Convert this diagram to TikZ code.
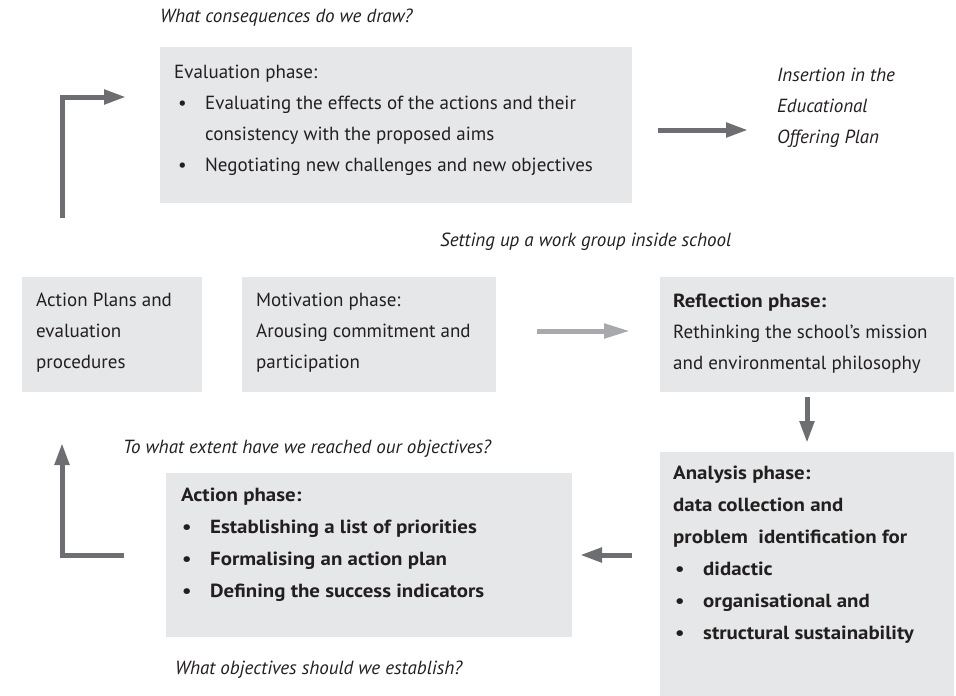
\documentclass[tikz,border=0pt]{standalone}
\usepackage{fontspec}
\setmainfont{PT Sans}[BoldFeatures={FakeStretch=1.1}]
\usetikzlibrary{arrows.meta}
\definecolor{boxgray}{HTML}{E6E7E8}
\definecolor{arrdark}{HTML}{6D6E71}
\definecolor{arrlight}{HTML}{A7A9AC}
\definecolor{txt}{HTML}{231F20}
\begin{document}
\begin{tikzpicture}[x=1pt,y=-1pt,
  box/.style={fill=boxgray, draw=none, inner sep=0, anchor=north west},
  ln/.style={inner sep=0, anchor=base west, text=txt, font=\fontsize{19}{23}\selectfont},
  lnb/.style={ln, font=\fontsize{19}{23}\selectfont\bfseries},
  lni/.style={ln, font=\fontsize{19}{23}\selectfont\itshape},
  darrow/.style={draw=arrdark, line width=5pt, -{Triangle[length=22pt,width=14pt]}},
  larrow/.style={draw=arrlight, line width=5pt, -{Triangle[length=26pt,width=14pt]}}]
\useasboundingbox (0,0) rectangle (956,696);

% boxes
\node[box, minimum width=472, minimum height=156] (evalbox) at (160,47) {};
\node[box, minimum width=180, minimum height=115] (planbox) at (22,277) {};
\node[box, minimum width=254, minimum height=115] (motbox) at (242,277) {};
\node[box, minimum width=294, minimum height=115] (refbox) at (660,277) {};
\node[box, minimum width=294, minimum height=244] (anabox) at (660,452) {};
\node[box, minimum width=406, minimum height=164] (actbox) at (166,473) {};

% free texts
\node[lni] (q1) at (160,23) {What consequences do we draw?};
\node[lni] (ins1) at (777,81) {Insertion in the};
\node[lni] (ins2) at (777,112) {Educational};
\node[lni] (ins3) at (777,143) {Offering Plan};
\node[lni] (q2) at (440,246) {Setting up a work group inside school};
\node[lni] (q3) at (123,453) {To what extent have we reached our objectives?};
\node[lni] (q4) at (175,674) {What objectives should we establish?};

% evaluation box
\node[ln] (e0) at (174,78) {Evaluation phase:};
\node[ln] (eb1) at (178,109) {•};
\node[ln] (e1) at (205,109) {Evaluating the effects of the actions and their};
\node[ln] (e2) at (205,140) {consistency with the proposed aims};
\node[ln] (eb3) at (178,171) {•};
\node[ln] (e3) at (205,171) {Negotiating new challenges and new objectives};

% action plans box
\node[ln] (p1) at (36,306) {Action Plans and};
\node[ln] (p2) at (36,337) {evaluation};
\node[ln] (p3) at (36,368) {procedures};

% motivation box
\node[ln] (m1) at (256,306) {Motivation phase:};
\node[ln] (m2) at (256,337) {Arousing commitment and};
\node[ln] (m3) at (256,368) {participation};

% reflection box
\node[lnb] (r1) at (673,307) {Reflection phase:};
\node[ln] (r2) at (673,338) {Rethinking the school’s mission};
\node[ln] (r3) at (673,369) {and environmental philosophy};

% analysis box
\node[lnb] (a1) at (673,479) {Analysis phase:};
\node[lnb] (a2) at (673,511) {data collection and};
\node[lnb] (a3) at (673,543) {problem\ \ identification for};
\node[lnb] (ab4) at (675,575) {•};
\node[lnb] (a4) at (703,575) {didactic};
\node[lnb] (ab5) at (675,607) {•};
\node[lnb] (a5) at (703,607) {organisational and};
\node[lnb] (ab6) at (675,639) {•};
\node[lnb] (a6) at (703,639) {structural sustainability};

% action phase box
\node[lnb] (c1) at (181,501) {Action phase:};
\node[lnb] (cb2) at (182,533) {•};
\node[lnb] (c2) at (210,533) {Establishing a list of priorities};
\node[lnb] (cb3) at (182,565) {•};
\node[lnb] (c3) at (210,565) {Formalising an action plan};
\node[lnb] (cb4) at (182,597) {•};
\node[lnb] (c4) at (210,597) {Defining the success indicators};

% arrows
\coordinate (tlA) at (62,218);
\coordinate (tlB) at (62,97);
\coordinate (tlC) at (126,97);
\draw[darrow] (tlA) -- (tlB) -- (tlC);

\coordinate (insA) at (658,130);
\coordinate (insB) at (748,130);
\draw[darrow] (insA) -- (insB);

\coordinate (motA) at (537,331);
\coordinate (motB) at (630,331);
\draw[larrow] (motA) -- (motB);

\coordinate (dnA) at (807,397);
\coordinate (dnB) at (807,443);
\draw[darrow] (dnA) -- (dnB);

\coordinate (lfA) at (632,555);
\coordinate (lfB) at (580,555);
\draw[darrow] (lfA) -- (lfB);

\coordinate (blA) at (124,555);
\coordinate (blB) at (62,555);
\coordinate (blC) at (62,443);
\draw[darrow] (blA) -- (blB) -- (blC);
\end{tikzpicture}
\end{document}
